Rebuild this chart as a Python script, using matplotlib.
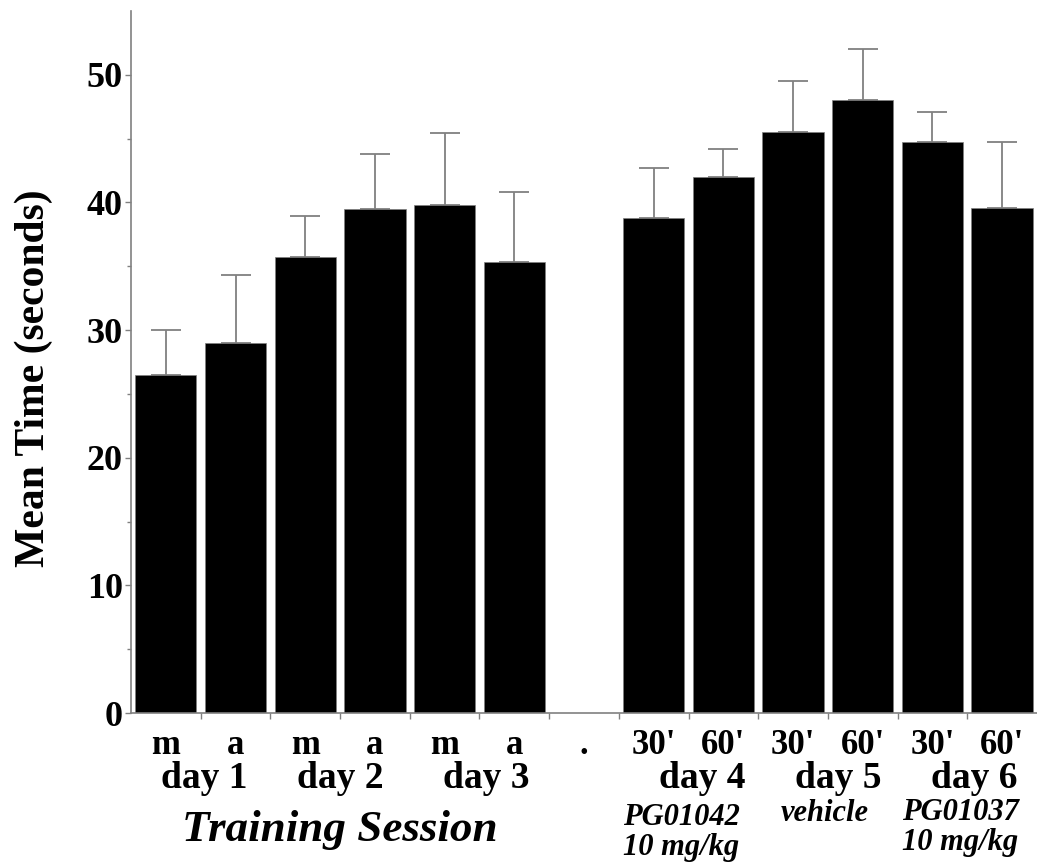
import numpy as np
import matplotlib.pyplot as plt
from matplotlib.transforms import blended_transform_factory

# values (blank slot between day 3 and day 4)
session_labels = ['m', 'a', 'm', 'a', 'm', 'a', '.', "30'", "60'", "30'", "60'", "30'", "60'"]
means = [26.5, 29.0, 35.7, 39.5, 39.8, 35.3, np.nan, 38.8, 42.0, 45.5, 48.0, 44.7, 39.6]
upper = [30.0, 34.3, 38.9, 43.8, 45.4, 40.8, np.nan, 42.7, 44.2, 49.5, 52.0, 47.1, 44.7]
day_labels = ['day 1', 'day 2', 'day 3', 'day 4', 'day 5', 'day 6']
day_pos = [0.55, 2.5, 4.6, 7.7, 9.65, 11.6]
drug_lines = [('PG01042', '10 mg/kg'), ('vehicle', ''), ('PG01037', '10 mg/kg')]
drug_pos = [7.4, 9.45, 11.4]
drug_top = [817, 813, 812]

plt.rcParams['font.family'] = ['Liberation Serif', 'DejaVu Serif']
gray = '#808080'

fig = plt.figure(figsize=(10.37, 8.63), dpi=100)
ax = fig.add_axes([0.1263, 0.1738, 0.8737, 0.8135])

x = np.arange(len(means))
m = np.array(means)
err = np.array(upper) - m
ok = ~np.isnan(m)
ax.bar(x[ok], m[ok], width=0.88, color='black', edgecolor=gray, linewidth=0.5, zorder=2)
ax.errorbar(x[ok], m[ok], yerr=[np.zeros(ok.sum()), err[ok]], fmt='none',
            ecolor=gray, elinewidth=1.3, capsize=11, capthick=1.3, zorder=1)

ax.set_xlim(-0.5, 12.5)
ax.set_ylim(0, 55)
ax.set_yticks([0, 10, 20, 30, 40, 50])
ax.set_yticks([5, 15, 25, 35, 45], minor=True)
ax.set_xticks(np.arange(0.5, 12, 1))
ax.set_xticklabels([])
ax.tick_params(axis='both', which='major', color=gray, length=4, width=1)
ax.tick_params(axis='y', which='minor', color=gray, length=3, width=1)
ax.tick_params(axis='y', labelsize=26, pad=2)
for lab in ax.get_yticklabels():
    lab.set_fontweight('bold')
for s in ['top', 'right']:
    ax.spines[s].set_visible(False)
for s in ['left', 'bottom']:
    ax.spines[s].set_color(gray)
    ax.spines[s].set_linewidth(1.2)

fig.text(34 / 1037, 1 - 378 / 863, 'Mean Time (seconds)', rotation=90,
         ha='center', va='center', fontsize=30, fontweight='bold')

tr = blended_transform_factory(ax.transData, fig.transFigure)
for xi, lab in zip(x, session_labels):
    ax.text(xi, 1 - 745 / 863, lab, transform=tr, ha='center', va='center',
            fontsize=25, fontweight='bold')
for xp, lab in zip(day_pos, day_labels):
    ax.text(xp, 1 - 778 / 863, lab, transform=tr, ha='center', va='center',
            fontsize=27, fontweight='bold')
for xp, yp, (l1, l2) in zip(drug_pos, drug_top, drug_lines):
    ax.text(xp, 1 - yp / 863, l1, transform=tr, ha='center', va='center',
            fontsize=22, fontweight='bold', style='italic')
    if l2:
        ax.text(xp, 1 - (yp + 30) / 863, l2, transform=tr, ha='center', va='center',
                fontsize=22, fontweight='bold', style='italic')
ax.text(2.5, 1 - 830 / 863, 'Training Session', transform=tr, ha='center', va='center',
        fontsize=32.5, fontweight='bold', style='italic')

fig.savefig('out.png', dpi=100)
